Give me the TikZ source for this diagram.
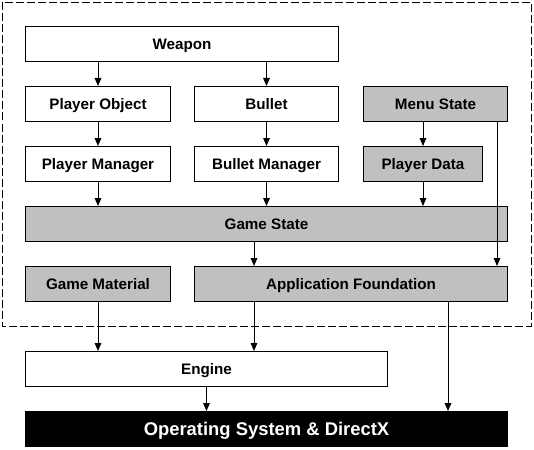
\documentclass[tikz,border=0pt]{standalone}
\usepackage{fontspec}
\setmainfont{Liberation Sans}
\usetikzlibrary{arrows.meta, positioning}

\definecolor{boxgray}{RGB}{192,192,192}

\tikzset{
  blk/.style={draw, line width=0.75pt, fill=white, anchor=north west, inner sep=0pt,
    minimum height=26.25pt, text height=8.2pt, text depth=0pt,
    font=\bfseries\fontsize{11.4}{13}\selectfont},
  grayblk/.style={blk, fill=boxgray},
  osblk/.style={blk, fill=black, text=white, text height=9.9pt,
    font=\bfseries\fontsize{13.8}{16}\selectfont},
  arr/.style={-{Triangle[length=6pt, width=5pt]}, line width=0.75pt},
}

\begin{document}
\begin{tikzpicture}[x=0.75pt, y=-0.75pt]
        \useasboundingbox (0,0) rectangle (534,449);
        % dashed frame round the game part
        \draw[line width=0.75pt, dash pattern=on 6pt off 2.25pt] (2.5,2.5) rectangle (531,326);
        \node[blk, minimum width=234.75pt] (weapon) at (25,26) {Weapon};
        \node[blk, minimum width=108.75pt] (po) at (25,86) {Player Object};
        \node[blk, minimum width=108pt] (bullet) at (194,86) {Bullet};
        \node[grayblk, minimum width=108pt] (ms) at (363,86) {Menu State};
        \node[blk, minimum width=108.75pt] (pm) at (25,146) {Player Manager};
        \node[blk, minimum width=108pt] (bm) at (194,146) {Bullet Manager};
        \node[grayblk, minimum width=89.25pt] (pd) at (363,146) {Player Data};
        \node[grayblk, minimum width=361.5pt] (gs) at (25,206) {Game State};
        \node[grayblk, minimum width=108.75pt] (gm) at (25,266) {Game Material};
        \node[grayblk, minimum width=234.75pt] (af) at (194,266) {Application Foundation};
        \node[blk, minimum width=271.5pt] (eng) at (25,351) {Engine};
        \node[osblk, minimum width=361.5pt] (os) at (25,411) {Operating System \& DirectX};
        % columns of the connectors
        \coordinate (c1) at (254,0);
        \coordinate (c2) at (448,0);
        \coordinate (c3) at (497,0);
        \draw[arr] (po.north |- weapon.south) -- (po.north);
        \draw[arr] (bullet.north |- weapon.south) -- (bullet.north);
        \draw[arr] (po) -- (pm);
        \draw[arr] (bullet) -- (bm);
        \draw[arr] (ms.south -| pd.north) -- (pd.north);
        \draw[arr] (c3 |- ms.south) -- (c3 |- af.north);
        \draw[arr] (pm) -- (pm.south |- gs.north);
        \draw[arr] (bm) -- (bm.south |- gs.north);
        \draw[arr] (pd) -- (pd.south |- gs.north);
        \draw[arr] (c1 |- gs.south) -- (c1 |- af.north);
        \draw[arr] (gm) -- (gm.south |- eng.north);
        \draw[arr] (c1 |- af.south) -- (c1 |- eng.north);
        \draw[arr] (eng) -- (eng.south |- os.north);
        \draw[arr] (c2 |- af.south) -- (c2 |- os.north);
\end{tikzpicture}
\end{document}
